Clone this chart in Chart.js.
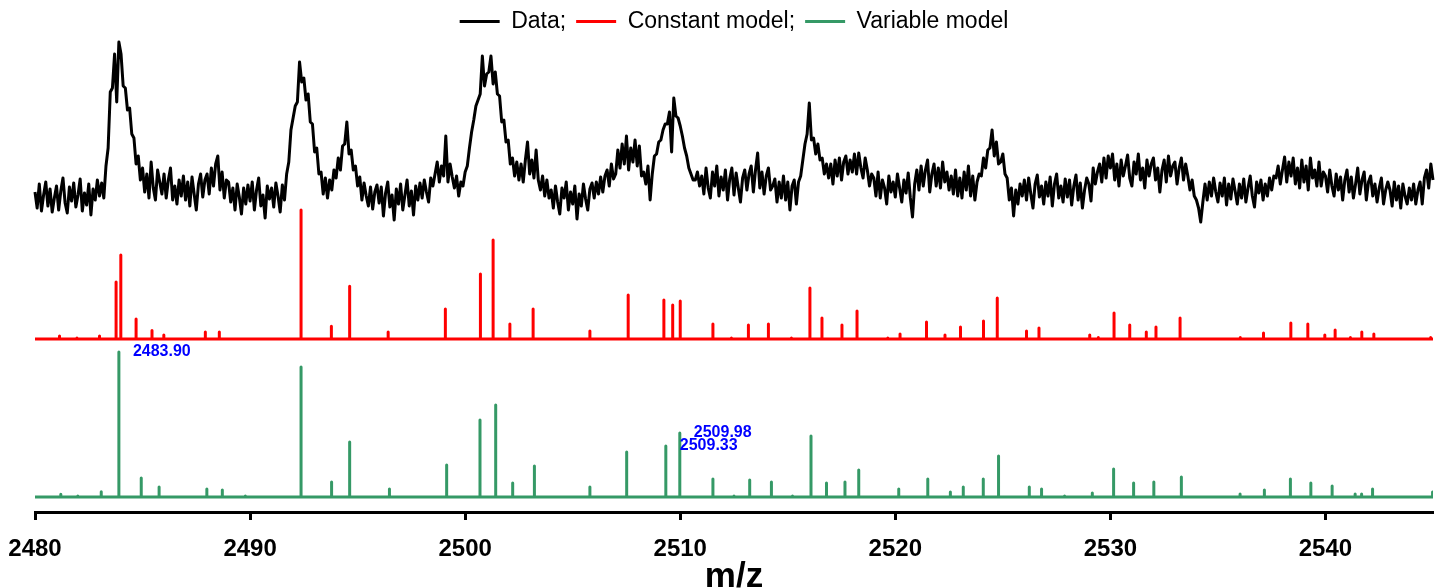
<!DOCTYPE html>
<html>
<head>
<meta charset="utf-8">
<script src="https://cdn.jsdelivr.net/npm/chart.js@4.4.1/dist/chart.umd.min.js"></script>
<style>
  html, body { margin: 0; padding: 0; background: #fff; }
  #wrap { width: 1447px; height: 588px; }
</style>
</head>
<body>
<div id="wrap"><canvas id="myChart"></canvas></div>
<script>
// measured spectrum, sampled every 0.1 m/z from 2480.0
var dataStartMz = 2480;
var dataStepMz = 0.1;
var dataIntensity = [
  18, 2, 26, -1, 15, 28, 4, 21, -2, 12,
  24, 0, 19, 32, 7, -3, 23, 9, 27, 3,
  15, 31, -1, 17, 5, 26, -5, 21, 10, 30,
  14, 27, 12, 44, 62, 118, 122, 156, 108, 168,
  156, 124, 122, 100, 102, 76, 72, 46, 54, 30,
  42, 18, 36, 12, 48, 22, 10, 40, 28, 16,
  36, 12, 30, 42, 10, 24, 6, 30, 14, 34,
  10, 28, 4, 33, 16, 0, 26, 36, 13, 30,
  36, 16, 42, 24, 46, 54, 20, 38, 12, 30,
  28, 8, 22, 0, 26, 13, -4, 22, 6, 25,
  9, 28, 0, 20, 32, 4, 15, -8, 24, 11,
  22, 3, 27, 14, -2, 25, 10, 36, 48, 80,
  92, 104, 108, 148, 128, 132, 110, 116, 88, 86,
  58, 62, 36, 38, 16, 32, 12, 30, 20, 40,
  32, 52, 40, 64, 66, 88, 56, 60, 40, 44,
  24, 33, 10, 27, 14, 4, 23, 1, 18, 25,
  7, 23, -6, 17, 28, 3, 15, -10, 21, 6,
  26, 0, 15, 30, 4, 19, -5, 24, 10, 27,
  12, 30, 18, 8, 32, 24, 36, 48, 28, 44,
  34, 74, 28, 46, 33, 22, 34, 14, 28, 24,
  38, 44, 62, 78, 90, 104, 110, 116, 154, 124,
  136, 138, 154, 126, 138, 116, 114, 88, 90, 68,
  70, 46, 52, 34, 48, 30, 46, 28, 50, 68,
  36, 50, 32, 60, 30, 20, 34, 14, 30, 12,
  20, 2, 24, 8, -4, 22, 12, 28, 0, 18,
  6, 24, -9, 16, 4, 26, 11, 0, 21, 27,
  12, 28, 16, 33, 18, 34, 40, 24, 46, 31,
  36, 60, 42, 66, 46, 74, 40, 62, 48, 70,
  44, 64, 34, 38, 26, 44, 10, 36, 54, 56,
  68, 70, 80, 86, 86, 98, 58, 112, 94, 92,
  84, 74, 62, 54, 42, 36, 30, 30, 38, 24,
  34, 16, 42, 22, 12, 38, 24, 44, 14, 33,
  20, 40, 10, 31, 42, 15, 37, 22, 8, 32,
  40, 20, 36, 44, 18, 40, 57, 22, 38, 16,
  34, 42, 20, 24, 31, 8, 28, 12, 34, 10,
  28, 0, 24, 30, 6, 28, 34, 50, 66, 76,
  107, 70, 72, 56, 66, 50, 52, 36, 46, 32,
  46, 26, 50, 34, 52, 30, 48, 54, 36, 50,
  38, 56, 36, 57, 42, 32, 52, 40, 24, 36,
  32, 14, 38, 12, 30, 22, 6, 34, 18, 28,
  13, 36, 22, 8, 30, 17, 37, 12, -7, 26,
  40, 20, 44, 24, 40, 50, 18, 36, 46, 24,
  42, 22, 48, 28, 38, 20, 34, 16, 40, 14,
  32, 12, 38, 20, 44, 14, 34, 10, 28, 36,
  34, 52, 42, 60, 62, 80, 54, 68, 46, 48,
  56, 36, 32, 10, 22, -6, 20, 6, 26, 14,
  30, 10, 32, 16, 2, 26, 35, 13, 24, 6,
  28, 14, 33, 4, 26, 36, 12, 24, 8, 31,
  13, 30, 5, 24, 35, 10, 27, 2, 20, 32,
  26, 9, 42, 26, 38, 46, 28, 52, 32, 54,
  42, 56, 30, 46, 24, 50, 34, 44, 55, 32,
  24, 48, 36, 56, 30, 42, 22, 50, 34, 46,
  52, 30, 42, 18, 40, 50, 28, 54, 34, 44,
  48, 26, 42, 52, 30, 46, 34, 20, 30, 14,
  10, 2, -12, 8, 26, 10, 28, 14, 32, 18,
  8, 27, 14, 32, 5, 26, 11, 31, 19, 6,
  26, 12, 31, 8, 22, 34, 14, 3, 28, 17,
  30, 10, 26, 14, 32, 20, 34, 32, 44, 26,
  40, 53, 28, 48, 34, 52, 26, 42, 22, 50,
  28, 44, 20, 52, 32, 40, 24, 48, 24, 38,
  34, 18, 40, 24, 14, 36, 20, 33, 10, 30,
  40, 18, 33, 12, 26, 42, 16, 30, 38, 10,
  28, 34, 14, 26, 8, 22, 32, 6, 20, 28,
  20, 4, 28, 10, 24, 2, 26, 14, 6, 22,
  10, 26, 6, 20, 28, 6, 32, 40, 22, 46,
  30
];

// constant model peaks
var constMz = [2481.14, 2481.95, 2483.00, 2483.77, 2483.99, 2484.70, 2485.44, 2485.99, 2487.92, 2488.57,
  2492.37, 2493.78, 2494.63, 2496.42, 2499.08, 2500.71, 2501.30, 2502.08, 2503.16, 2505.80,
  2507.58, 2509.24, 2509.65, 2510.00, 2511.52, 2512.38, 2513.17, 2514.10, 2515.17, 2516.03,
  2516.59, 2517.52, 2518.22, 2519.65, 2520.22, 2521.45, 2522.31, 2523.03, 2524.10, 2524.74,
  2526.10, 2526.68, 2529.04, 2529.44, 2530.17, 2530.90, 2531.67, 2532.12, 2533.24, 2536.04,
  2537.12, 2538.39, 2539.18, 2539.97, 2540.45, 2541.16, 2541.69, 2542.25, 2544.89];
var constInt = [3, 1, 3, 57, 84, 20, 8.5, 4, 7, 7,
  129, 12.7, 52.7, 7, 30, 65, 99, 15, 30, 8,
  44, 39, 34, 38, 15, 1, 14, 15, 1, 51,
  21, 14, 28, 1, 5, 17, 4, 12, 18, 41,
  8, 11, 4, 1.5, 26, 14, 7, 12, 21, 1.5,
  6, 16, 15, 4, 9, 1.5, 7, 5, 1.5];

// variable model peaks
var varMz = [2481.20, 2481.99, 2483.08, 2483.90, 2484.94, 2485.77, 2487.99, 2488.71, 2489.78, 2492.37,
  2493.79, 2494.63, 2496.48, 2499.14, 2500.69, 2501.42, 2502.21, 2503.22, 2505.80, 2507.51,
  2509.33, 2509.98, 2511.52, 2512.50, 2513.23, 2514.24, 2515.22, 2516.08, 2516.80, 2517.66,
  2518.30, 2520.16, 2521.51, 2522.56, 2523.16, 2524.09, 2524.80, 2526.23, 2526.80, 2527.87,
  2529.16, 2530.15, 2531.08, 2532.02, 2533.30, 2536.03, 2537.16, 2538.37, 2539.32, 2540.31,
  2541.38, 2541.68, 2542.19, 2544.98];
var varInt = [2.7, 1, 5.3, 145, 19, 10, 8, 7, 1, 130,
  15, 55, 8, 32, 77, 92, 14, 31, 10, 45,
  51, 64, 18, 1, 17, 15, 1, 61, 14, 15,
  27, 8, 18, 5, 10, 18, 41, 10, 8, 1,
  4, 28, 14, 15, 20, 3, 7, 18, 14, 11,
  3, 3, 8, 5];

var labelledMz = [2483.90, 2509.98, 2509.33];
var xTicks = [2480, 2490, 2500, 2510, 2520, 2530, 2540];

// vertical placement of the three traces
var OFFSET_DATA = 302, OFFSET_CONST = 173, OFFSET_VAR = 15, YMAX = 469;
var FONT = "'Liberation Sans', Arial, sans-serif";

function sticks(mz, ints, offset) {
  var pts = [{x: 2480, y: offset}];
  for (var i = 0; i < mz.length; i++) {
    pts.push({x: mz[i], y: offset});
    pts.push({x: mz[i], y: offset + ints[i]});
    pts.push({x: mz[i], y: offset});
  }
  pts.push({x: 2545, y: offset});
  return pts;
}

var dataPts = dataIntensity.map(function (v, i) {
  return {x: dataStartMz + i * dataStepMz, y: OFFSET_DATA + v};
});

var peakLabels = {
  id: 'peakLabels',
  afterDatasetsDraw: function (chart) {
    var ctx = chart.ctx, xs = chart.scales.x, ys = chart.scales.y;
    ctx.save();
    ctx.font = 'bold 16px ' + FONT;
    ctx.fillStyle = '#0000ff';
    ctx.textAlign = 'left';
    ctx.textBaseline = 'middle';
    labelledMz.forEach(function (m) {
      var k = varMz.indexOf(m);
      var px = xs.getPixelForValue(m) + 14;
      var py = ys.getPixelForValue(OFFSET_VAR + varInt[k]);
      ctx.fillText(m.toFixed(2), px, py);
    });
    ctx.restore();
  }
};

var ctx = document.getElementById("myChart");
var myChart = new Chart(ctx, {
  type: 'line',
  data: {
    datasets: [{
      label: 'Data;',
      data: dataPts,
      borderColor: '#000000',
      backgroundColor: '#000000',
      borderWidth: 3,
      pointRadius: 0,
      borderJoinStyle: 'round',
      clip: false
    }, {
      label: 'Constant model;',
      data: sticks(constMz, constInt, OFFSET_CONST),
      borderColor: '#ff0000',
      backgroundColor: '#ff0000',
      borderWidth: 3,
      pointRadius: 0,
      borderJoinStyle: 'round'
    }, {
      label: 'Variable model',
      data: sticks(varMz, varInt, OFFSET_VAR),
      borderColor: '#359966',
      backgroundColor: '#359966',
      borderWidth: 3,
      pointRadius: 0,
      borderJoinStyle: 'round'
    }]
  },
  options: {
    responsive: true,
    maintainAspectRatio: false,
    animation: false,
    layout: { padding: { left: 35, right: 14, top: 0, bottom: -6.5 } },
    plugins: {
      tooltip: { enabled: false },
      legend: {
        position: 'top',
        labels: {
          boxWidth: 40,
          boxHeight: 3,
          padding: 10,
          color: '#000',
          font: { family: FONT, size: 23, lineHeight: 1 },
          generateLabels: function (chart) {
            return Chart.defaults.plugins.legend.labels.generateLabels(chart).map(function (l) {
              l.lineWidth = 0;
              return l;
            });
          }
        }
      }
    },
    scales: {
      x: {
        type: 'linear',
        min: 2480,
        max: 2545,
        afterBuildTicks: function (s) {
          s.ticks = xTicks.map(function (v) { return {value: v}; });
        },
        border: { display: true, color: '#000', width: 3 },
        grid: { drawOnChartArea: false, drawTicks: true, tickLength: 8, tickWidth: 3, tickColor: '#000' },
        ticks: {
          color: '#000',
          padding: 8,
          maxRotation: 0,
          font: { family: FONT, size: 24, weight: 'bold', lineHeight: 1.75 },
          callback: function (v) { return String(v); }
        },
        title: {
          display: true,
          text: 'm/z',
          color: '#000',
          padding: { top: -18.5, bottom: 0 },
          font: { family: FONT, size: 35, weight: 'bold', lineHeight: 1 }
        }
      },
      y: {
        display: false,
        min: 0,
        max: YMAX
      }
    }
  },
  plugins: [peakLabels]
});
</script>
</body>
</html>
